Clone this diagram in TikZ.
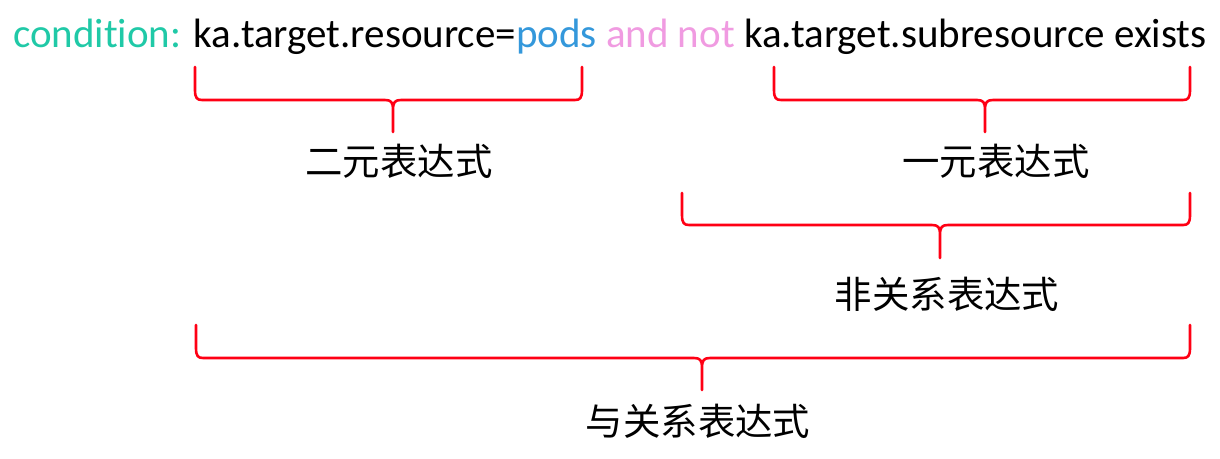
\documentclass[tikz,border=0pt]{standalone}
\usepackage{fontspec}
\setmainfont{Carlito}[Ligatures=CommonOff]
\newfontfamily\cjk{Noto Sans CJK SC}
\definecolor{condteal}{RGB}{32,201,167}
\definecolor{podsblue}{RGB}{52,152,219}
\definecolor{andpink}{RGB}{240,155,225}
\definecolor{bracered}{RGB}{255,0,20}
\newcommand\redbrace[6]{%
  \draw[bracestyle] (#1,#3) -- (#1,#4-10) .. controls (#1,#4-2) and (#1+2,#4) .. (#1+7,#4)
    -- (#5-8,#4) .. controls (#5-2,#4) and (#5,#4+2) .. (#5,#4+10) -- (#5,#6)
    (#5,#4+10) .. controls (#5,#4+2) and (#5+2,#4) .. (#5+8,#4)
    -- (#2-7,#4) .. controls (#2-2,#4) and (#2,#4-2) .. (#2,#4-10) -- (#2,#3);}
\begin{document}
\begin{tikzpicture}[x=1pt,y=-1pt,
  bracestyle/.style={draw=bracered,line width=2.6pt,line cap=round,line join=round},
  cjklabel/.style={font=\cjk\fontsize{37.4}{40}\selectfont,inner sep=0pt,anchor=center}]
\useasboundingbox (0,0) rectangle (1220,458);
\node[anchor=base west,inner sep=0pt,font=\fontsize{41}{44}\selectfont] (cond) at (13,47)
  {\textcolor{condteal}{condition:} ka.target.resource=\textcolor{podsblue}{pods} \textcolor{andpink}{and not} ka.target.subresource exists};
\redbrace{195}{582}{67}{100}{393}{132}
\redbrace{774}{1190}{67}{100}{985}{132}
\redbrace{682}{1190}{193}{225}{940}{258}
\redbrace{196}{1190}{325}{358}{702}{390}
\node[cjklabel] (bin) at (399,161) {二元表达式};
\node[cjklabel] (una) at (996,161) {一元表达式};
\node[cjklabel] (notrel) at (947,294) {非关系表达式};
\node[cjklabel] (andrel) at (698,421) {与关系表达式};
\end{tikzpicture}
\end{document}
